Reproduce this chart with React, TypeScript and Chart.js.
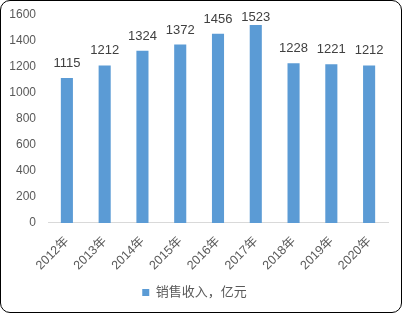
import React, { useEffect, useRef } from "react";
import { Chart, registerables } from "chart.js";

Chart.register(...registerables);

const categories = ["2012年", "2013年", "2014年", "2015年", "2016年", "2017年", "2018年", "2019年", "2020年"];
const salesRevenue = [1115, 1212, 1324, 1372, 1456, 1523, 1228, 1221, 1212];
const seriesName = "销售收入，亿元";
const yMax = 1600;
const yStep = 200;

const FONT = "'Liberation Sans', 'Noto Sans CJK SC', sans-serif";

const valueLabels = {
  id: "valueLabels",
  afterDatasetsDraw(chart: any) {
    const ctx = chart.ctx;
    const meta = chart.getDatasetMeta(0);
    const data = chart.data.datasets[0].data as number[];
    const minBottom = chart.chartArea.top + 9;
    ctx.save();
    ctx.font = `13px ${FONT}`;
    ctx.fillStyle = "#404040";
    ctx.textAlign = "center";
    ctx.textBaseline = "bottom";
    meta.data.forEach((bar: any, i: number) => {
      ctx.fillText(String(data[i]), bar.x, Math.max(bar.y - 8, minBottom));
    });
    ctx.restore();
  },
};

export default function App() {
  const ref = useRef<HTMLCanvasElement | null>(null);
  useEffect(() => {
    if (!ref.current) return;
    const chart = new Chart(ref.current, {
      type: "bar",
      data: {
        labels: categories,
        datasets: [
          {
            label: seriesName,
            data: salesRevenue,
            backgroundColor: "#5b9bd5",
            borderWidth: 0,
            categoryPercentage: 1,
            barPercentage: 0.32,
          },
        ],
      },
      options: {
        responsive: false,
        animation: false,
        layout: { padding: { top: 14, left: 0, right: 13, bottom: 3 } },
        plugins: {
          legend: {
            position: "bottom",
            labels: {
              boxWidth: 7,
              boxHeight: 7,
              padding: 6,
              color: "#595959",
              font: { size: 13, family: FONT },
            },
          },
          tooltip: { enabled: false },
        },
        scales: {
          x: {
            grid: { display: false, drawTicks: false },
            border: { display: true, color: "#d9d9d9" },
            afterFit: (scale: any) => {
              scale.height -= 4;
            },
            ticks: {
              maxRotation: 45,
              minRotation: 45,
              color: "#595959",
              padding: 11,
              font: { size: 12.5, family: FONT },
            },
          },
          y: {
            min: 0,
            max: yMax,
            afterFit: (scale: any) => {
              scale.width = 47;
              scale.paddingTop = 0;
              scale.paddingBottom = 0;
            },
            ticks: {
              stepSize: yStep,
              color: "#595959",
              padding: 12,
              font: { size: 12, family: FONT },
              callback: (v: any) => String(v),
            },
            grid: { display: false, drawTicks: false },
            border: { display: false },
          },
        },
      },
      plugins: [valueLabels],
    });
    return () => chart.destroy();
  }, []);
  return (
    <div
      style={{
        position: "fixed",
        left: 0,
        top: 0,
        width: 402,
        height: 313,
        boxSizing: "border-box",
        border: "1px solid #000",
        borderRadius: 10,
        overflow: "hidden",
        background: "#fff",
      }}
    >
      <canvas ref={ref} width={400} height={311} style={{ display: "block" }} />
    </div>
  );
}
